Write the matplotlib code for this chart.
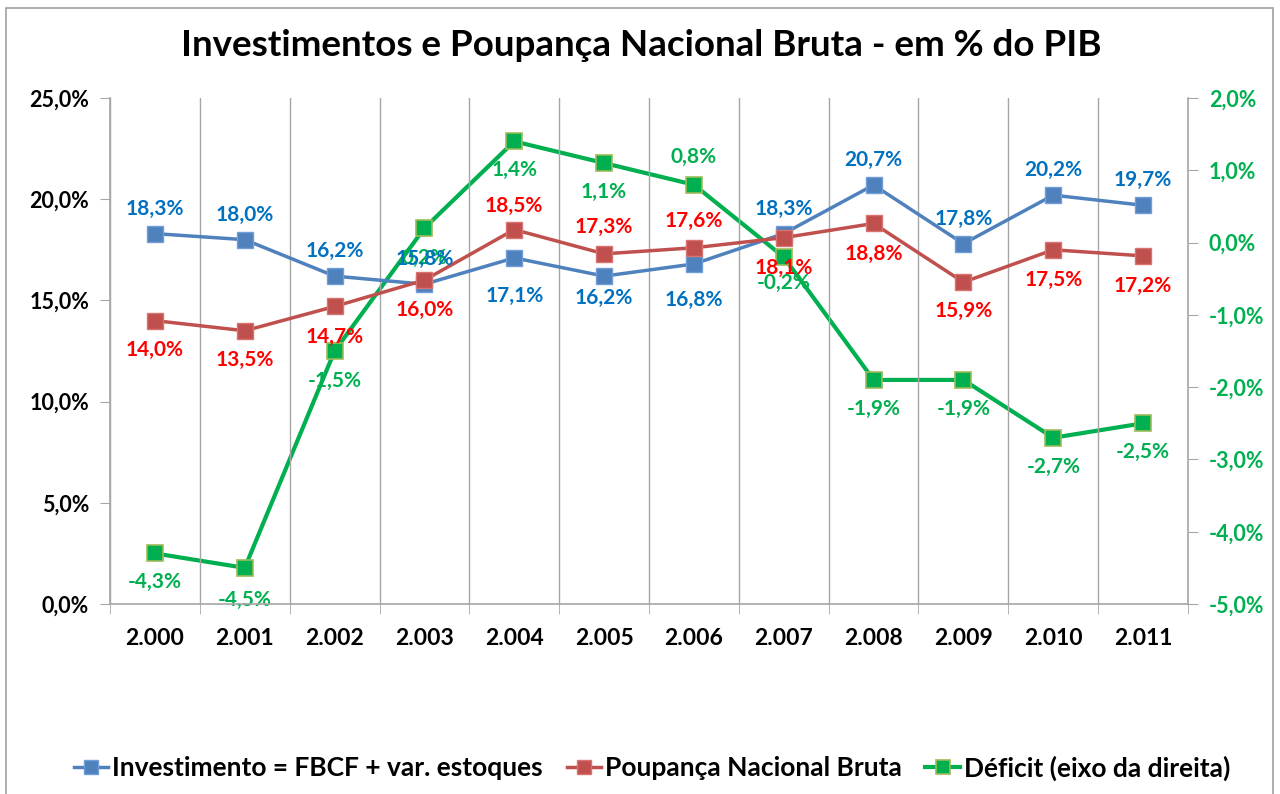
import matplotlib.pyplot as plt
from matplotlib.patches import Rectangle
from matplotlib.ticker import FixedLocator

plt.rcParams['font.family'] = ['Lato', 'DejaVu Sans']
plt.rcParams['font.weight'] = 'bold'

# Data
years = ["2.000", "2.001", "2.002", "2.003", "2.004", "2.005",
         "2.006", "2.007", "2.008", "2.009", "2.010", "2.011"]
investimento = [18.3, 18.0, 16.2, 15.8, 17.1, 16.2, 16.8, 18.3, 20.7, 17.8, 20.2, 19.7]
poupanca = [14.0, 13.5, 14.7, 16.0, 18.5, 17.3, 17.6, 18.1, 18.8, 15.9, 17.5, 17.2]
deficit = [-4.3, -4.5, -1.5, 0.2, 1.4, 1.1, 0.8, -0.2, -1.9, -1.9, -2.7, -2.5]

# label placement (pixel offset from the marker, positive = down)
inv_off = [-25, -25, -25, -25, 38, 22, 36, -25, -25, -25, -25, -25]
pou_off = [29, 29, 30, 30, -24, -27, -27, 30, 30, 29, 30, 30]
def_off = [29, 32, 30, 30, 29, 29, -28, 26, 29, 29, 29, 29]

BLUE = "#4F81BD"
RED = "#C0504D"
GREEN = "#00B050"
GRID = "#A6A6A6"


def fmt(v):
    return f"{v:.1f}%".replace(".", ",")


fig = plt.figure(figsize=(12.8, 7.94), dpi=100)
ax = fig.add_axes([110 / 1280, 1 - 604 / 794, 1078 / 1280, 506 / 794])
ax2 = ax.twinx()

x = list(range(len(years)))

ax.plot(x, investimento, color=BLUE, lw=2.5, marker='s', ms=11,
        mfc=BLUE, mec="#6F9ED8", mew=1, zorder=3,
        label="Investimento = FBCF + var. estoques")
ax.plot(x, poupanca, color=RED, lw=2.5, marker='s', ms=11,
        mfc=RED, mec="#D8736F", mew=1, zorder=3,
        label="Poupança Nacional Bruta")
ax2.plot(x, deficit, color=GREEN, lw=3, marker='s', ms=11,
         mfc=GREEN, mec="#9BBB59", mew=1.2, zorder=3,
         label="Déficit (eixo da direita)")

# data labels
for xi, v, o in zip(x, investimento, inv_off):
    ax.annotate(fmt(v), (xi, v), xytext=(0, -o * 0.72), textcoords="offset points",
                ha='center', va='center', color="#0070C0", fontsize=15, fontweight='bold')
for xi, v, o in zip(x, poupanca, pou_off):
    ax.annotate(fmt(v), (xi, v), xytext=(0, -o * 0.72), textcoords="offset points",
                ha='center', va='center', color="#FF0000", fontsize=15, fontweight='bold')
for xi, v, o in zip(x, deficit, def_off):
    ax2.annotate(fmt(v), (xi, v), xytext=(0, -o * 0.72), textcoords="offset points",
                 ha='center', va='center', color=GREEN, fontsize=15, fontweight='bold')

ax.set_xlim(-0.5, len(years) - 0.5)
ax.set_ylim(0, 25)
ax2.set_ylim(-5, 2)

ax.set_xticks(x)
ax.set_xticklabels(years, fontsize=16.5, fontweight='bold')
ax.xaxis.set_minor_locator(FixedLocator([i - 0.5 for i in range(len(years) + 1)]))
ax.tick_params(axis='x', which='major', length=0, pad=17)
ax.tick_params(axis='x', which='minor', length=7, direction='out', color=GRID)
ax.grid(axis='x', which='minor', color=GRID, lw=1)

ax.set_yticks([0, 5, 10, 15, 20, 25])
ax.set_yticklabels([fmt(v) for v in [0, 5, 10, 15, 20, 25]], fontsize=15.5, fontweight='bold')
ax.tick_params(axis='y', length=7, direction='out', color=GRID, pad=8)

ax2.set_yticks([-5, -4, -3, -2, -1, 0, 1, 2])
ax2.set_yticklabels([fmt(v) for v in [-5, -4, -3, -2, -1, 0, 1, 2]],
                    fontsize=15.5, fontweight='bold', color=GREEN)
ax2.tick_params(axis='y', length=7, direction='out', color=GRID, pad=8)

for a in (ax, ax2):
    a.spines['top'].set_visible(False)
    for s in ('left', 'right', 'bottom'):
        a.spines[s].set_color(GRID)
        a.spines[s].set_linewidth(1.2)
ax.spines['right'].set_visible(False)
ax2.spines['left'].set_visible(False)
ax2.spines['bottom'].set_visible(False)
ax.set_zorder(ax2.get_zorder() + 1)
ax.patch.set_visible(False)

fig.text(641 / 1280, 1 - 46 / 794, "Investimentos e Poupança Nacional Bruta - em % do PIB",
         ha='center', va='center', fontsize=26.5, fontweight='bold')

h1, l1 = ax.get_legend_handles_labels()
h2, l2 = ax2.get_legend_handles_labels()
fig.legend(h1 + h2, l1 + l2, loc='center', bbox_to_anchor=(652 / 1280, 1 - 768 / 794),
           ncol=3, frameon=False, fontsize=19, handlelength=1.3, handletextpad=0.15,
           columnspacing=0.9, markerscale=0.9)

fig.patches.append(Rectangle((6 / 1280, -0.02), 1267 / 1280, 1 - 8 / 794 + 0.02,
                             transform=fig.transFigure, fill=False,
                             edgecolor="#A0A0A0", lw=1.2))

fig.savefig("out.png", dpi=100)
